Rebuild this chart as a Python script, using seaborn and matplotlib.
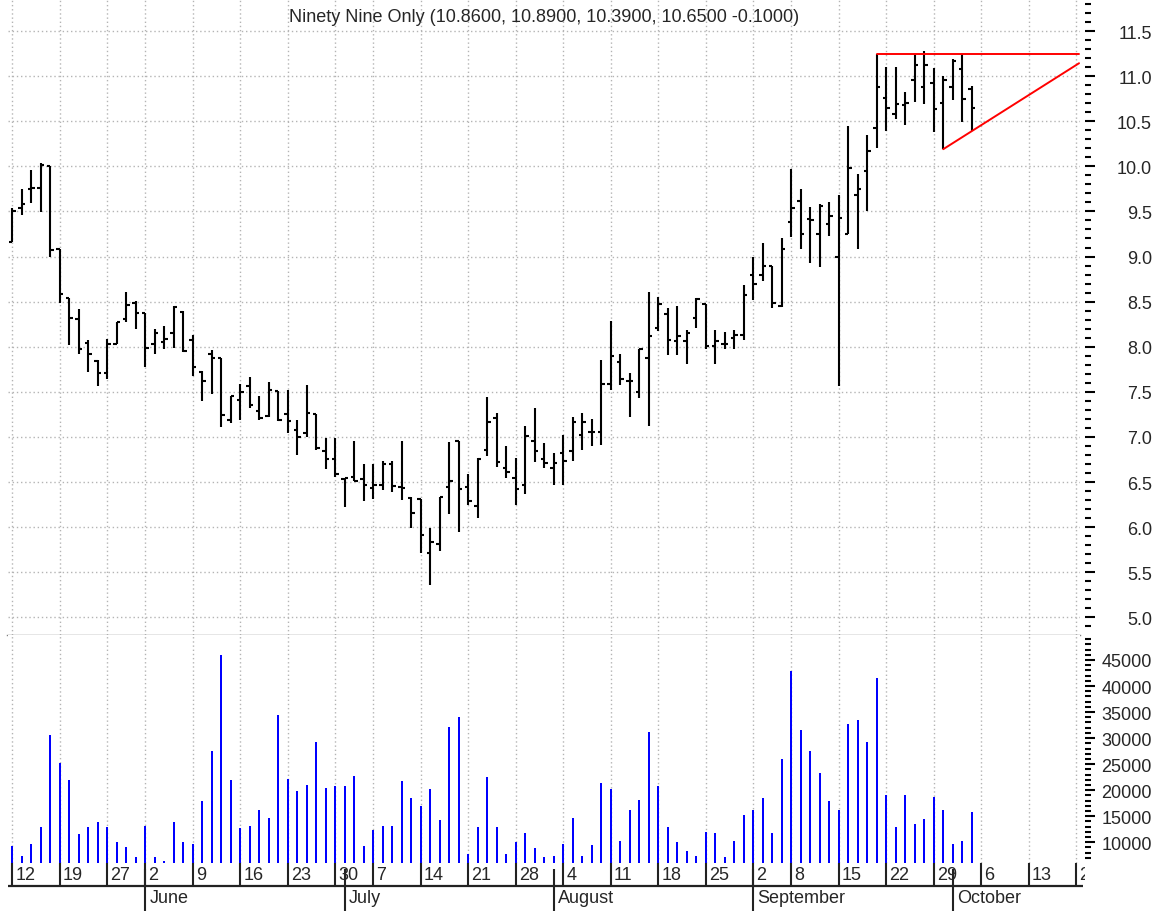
import numpy as np
import pandas as pd
import matplotlib
matplotlib.use("Agg")
import matplotlib.pyplot as plt
from matplotlib.ticker import MultipleLocator, FormatStrFormatter, FixedLocator, NullFormatter
import seaborn as sns

# ---------------- data ----------------
title = "Ninety Nine Only (10.8600, 10.8900, 10.3900, 10.6500 -0.1000)"

opens = [9.16, 9.54, 9.75, 9.76, 10.00, 9.08, 8.54, 8.31, 8.04, 7.84,
         7.71, 8.03, 8.31, 8.49, 8.37, 8.03, 8.05, 8.15, 8.39, 8.08,
         7.72, 7.92, 7.88, 7.19, 7.41, 7.56, 7.29, 7.23, 7.51, 7.25,
         7.08, 7.04, 7.25, 6.84, 6.76, 6.53, 6.56, 6.53, 6.43, 6.47,
         6.70, 6.44, 6.32, 6.31, 5.71, 5.81, 6.44, 6.96, 6.45, 6.23,
         6.85, 7.21, 6.65, 6.55, 6.47, 6.95, 6.76, 6.65, 6.82, 6.84,
         7.02, 7.06, 7.06, 7.59, 7.83, 7.62, 7.50, 7.88, 8.21, 8.36,
         8.06, 8.06, 8.32, 8.47, 8.01, 8.03, 8.10, 8.13, 8.79, 8.80,
         8.90, 8.45, 9.38, 9.62, 9.42, 9.25, 9.36, 9.00, 9.25, 9.68,
         9.95, 10.42, 10.76, 10.58, 10.68, 10.96, 10.88, 10.92, 10.70, 10.88,
         11.08, 10.86]
highs = [9.54, 9.75, 9.96, 10.04, 10.00, 9.08, 8.54, 8.42, 8.07, 7.85,
         8.09, 8.27, 8.61, 8.51, 8.37, 8.20, 8.23, 8.45, 8.40, 8.13,
         7.73, 7.96, 7.88, 7.45, 7.59, 7.66, 7.45, 7.61, 7.51, 7.52,
         7.19, 7.58, 7.25, 6.99, 6.99, 6.55, 6.95, 6.70, 6.70, 6.73,
         6.73, 6.95, 6.33, 6.31, 5.99, 6.33, 6.94, 6.96, 6.59, 6.77,
         7.44, 7.27, 6.90, 6.77, 7.12, 7.32, 6.93, 6.82, 7.02, 7.22,
         7.26, 7.20, 7.85, 8.29, 7.92, 7.71, 7.98, 8.61, 8.55, 8.43,
         8.45, 8.19, 8.54, 8.47, 8.18, 8.16, 8.19, 8.68, 9.00, 9.15,
         8.90, 9.21, 9.97, 9.75, 9.55, 9.58, 9.60, 9.68, 10.45, 9.92,
         10.35, 11.25, 11.10, 11.10, 10.82, 11.23, 11.28, 11.09, 11.00, 11.19,
         11.24, 10.89]
lows = [9.16, 9.46, 9.59, 9.49, 9.00, 8.49, 8.02, 7.92, 7.72, 7.57,
        7.64, 8.03, 8.27, 8.20, 7.77, 7.92, 7.97, 7.99, 7.94, 7.67,
        7.40, 7.48, 7.11, 7.15, 7.19, 7.32, 7.19, 7.22, 7.18, 7.04,
        6.80, 7.00, 6.86, 6.64, 6.56, 6.22, 6.51, 6.29, 6.31, 6.41,
        6.39, 6.30, 5.99, 5.71, 5.36, 5.74, 6.15, 5.95, 6.25, 6.10,
        6.79, 6.67, 6.55, 6.25, 6.37, 6.72, 6.65, 6.47, 6.47, 6.73,
        6.85, 6.90, 6.91, 7.52, 7.58, 7.22, 7.43, 7.12, 8.17, 7.91,
        7.91, 7.81, 8.21, 7.97, 7.81, 7.97, 7.97, 8.08, 8.52, 8.73,
        8.43, 8.44, 9.22, 9.08, 8.93, 8.88, 9.23, 7.56, 9.25, 9.08,
        9.51, 10.20, 10.39, 10.53, 10.46, 10.71, 10.69, 10.38, 10.19, 10.74,
        10.49, 10.39]
closes = [9.50, 9.58, 9.76, 10.01, 9.07, 8.59, 8.32, 7.97, 7.92, 7.71,
          8.03, 8.27, 8.46, 8.37, 7.99, 8.15, 8.09, 8.44, 7.95, 7.78,
          7.62, 7.88, 7.24, 7.45, 7.50, 7.35, 7.21, 7.52, 7.19, 7.18,
          7.00, 7.26, 6.88, 6.76, 6.59, 6.55, 6.51, 6.47, 6.47, 6.70,
          6.46, 6.43, 6.16, 5.91, 5.84, 6.33, 6.51, 6.42, 6.29, 6.76,
          7.17, 6.72, 6.61, 6.42, 7.01, 6.84, 6.71, 6.71, 6.73, 7.16,
          7.17, 7.05, 7.59, 7.90, 7.64, 7.62, 7.98, 8.12, 8.47, 8.08,
          8.12, 8.15, 8.53, 8.01, 8.06, 8.03, 8.13, 8.57, 8.70, 8.90,
          8.49, 9.08, 9.54, 9.25, 9.40, 9.56, 9.45, 9.43, 9.98, 9.75,
          10.17, 10.88, 10.65, 10.69, 10.70, 11.12, 11.12, 10.63, 10.96, 11.17,
          10.75, 10.65]
volumes = [9230, 7440, 9740, 12950, 30640,
           25130, 21920, 11540, 12950, 13850,
           12950, 10060, 9170, 7180,
           13200, 7180, 6350, 13850, 10060,
           9740, 17880, 27500, 46030, 21920,
           12690, 13200, 16150, 14680, 34420,
           22180, 19870, 21090, 29230, 20450,
           20830, 20830, 22820, 9230,
           12440, 13200, 13200, 21670, 18460,
           16990, 20190, 14360, 32120, 34100,
           7690, 12950, 22560, 12950, 7690,
           10060, 11790, 8910, 7180, 7440,
           9740, 14680, 7440, 9490, 21410,
           20190, 10320, 16150, 18140, 31220,
           20830, 12950, 10060, 8270, 7440,
           12050, 11790, 7180, 10320, 15190,
           16150, 18460, 11790, 25960,
           42820, 31470, 27440, 23330, 17880,
           16150, 32630, 33530, 29230, 41600,
           19040, 12950, 19040, 13530, 14420,
           18720, 16150, 9740, 10320, 15900]

holidays = ["2008-05-26", "2008-07-04", "2008-09-01"]
resistance_level = 11.25
resistance_start = 91
support_points = [(98, 10.19), (101, 10.39)]

# ---------------- calendar (trading days) ----------------
calendar = pd.bdate_range("2008-05-12", "2008-10-20")
calendar = calendar[~calendar.isin(pd.to_datetime(holidays))]
cal = pd.DataFrame({"date": calendar})
cal["pos"] = np.arange(len(cal))
iso = cal["date"].dt.isocalendar()
cal["week"] = iso["year"].astype(str) + "-" + iso["week"].astype(str)
week_starts = cal.groupby("week", sort=False)["pos"].min().values
week_labels = [str(cal.loc[p, "date"].day) for p in week_starts]
cal["month"] = cal["date"].dt.month
month_first = cal.groupby("month", sort=False)["pos"].min()
month_starts = month_first.values[1:]
month_labels = [cal.loc[p, "date"].strftime("%B") for p in month_starts]

n = len(opens)
idx = np.arange(n)
df = pd.DataFrame({"pos": idx, "open": opens, "high": highs, "low": lows,
                   "close": closes, "volume": volumes})

# ---------------- style ----------------
sns.set_style("white")
plt.rcParams["font.family"] = ["Liberation Sans", "DejaVu Sans"]
plt.rcParams["font.size"] = 13

W, H = 1166, 912
L, R = 7.5, 1080.0
px_per_day = 9.5
x_left = -0.5
x_right = x_left + (R - L) / px_per_day

fig = plt.figure(figsize=(W / 100, H / 100), dpi=100)
ax_p = fig.add_axes([L / W, 1 - 636 / H, (R - L) / W, 636 / H])
ax_v = fig.add_axes([L / W, 1 - 864 / H, (R - L) / W, 228 / H])
ax_d = fig.add_axes([L / W, 0, (R + 5 - L) / W, 48 / H])

grid_kw = dict(color="#b4b4b4", linestyle=(0, (1, 2)), linewidth=1.0)

# ---------------- price panel ----------------
ax_p.vlines(df["pos"], df["low"], df["high"], color="black", linewidth=1.5)
ax_p.hlines(df["open"], df["pos"] - 0.38, df["pos"], color="black", linewidth=1.5)
ax_p.hlines(df["close"], df["pos"], df["pos"] + 0.38, color="black", linewidth=1.5)

line_end = x_right - 0.1
ax_p.plot([resistance_start, line_end], [resistance_level, resistance_level],
          color="#ff0000", linewidth=1.4)
(sx0, sy0), (sx1, sy1) = support_points
slope = (sy1 - sy0) / (sx1 - sx0)
ax_p.plot([sx0, line_end], [sy0, sy0 + slope * (line_end - sx0)],
          color="#ff0000", linewidth=1.4)

ax_p.set_xlim(x_left, x_right)
ax_p.set_ylim(4.804, 11.855)
ax_p.xaxis.set_major_locator(FixedLocator(week_starts))
ax_p.xaxis.set_major_formatter(NullFormatter())
ax_p.tick_params(axis="x", length=0)
ax_p.yaxis.set_major_locator(MultipleLocator(0.5))
ax_p.yaxis.set_minor_locator(MultipleLocator(0.1))
ax_p.yaxis.set_major_formatter(FormatStrFormatter("%.1f"))
ax_p.grid(True, which="major", **grid_kw)
for s in ["left", "top", "right"]:
    ax_p.spines[s].set_visible(False)
ax_p.spines["bottom"].set_color("#808080")
ax_p.spines["bottom"].set_linewidth(1.0)

# ---------------- volume panel ----------------
sns.barplot(data=df, x="pos", y="volume", native_scale=True, width=0.22,
            color="#0000ff", saturation=1, errorbar=None, linewidth=0, ax=ax_v)
ax_v.set_xlabel("")
ax_v.set_ylabel("")
ax_v.set_xlim(x_left, x_right)
ax_v.set_ylim(6020, 49800)
ax_v.xaxis.set_major_locator(FixedLocator(week_starts))
ax_v.xaxis.set_major_formatter(NullFormatter())
ax_v.tick_params(axis="x", length=0)
ax_v.yaxis.set_major_locator(MultipleLocator(5000))
ax_v.yaxis.set_minor_locator(MultipleLocator(1000))
ax_v.yaxis.set_major_formatter(FormatStrFormatter("%d"))
ax_v.grid(True, axis="x", which="major", **grid_kw)
ax_v.grid(False, axis="y")
for s in ["left", "top", "bottom", "right"]:
    ax_v.spines[s].set_visible(False)

# right-hand tick styling for both panels
for ax in (ax_p, ax_v):
    ax.yaxis.tick_right()
    ax.spines["right"].set_position(("outward", 3.6))
    ax.tick_params(axis="y", which="major", direction="out", length=7.2,
                   width=1.5, color="black", pad=41, labelsize=13)
    ax.tick_params(axis="y", which="minor", direction="out", length=4.3,
                   width=1.5, color="black")
    plt.setp(ax.get_yticklabels(), ha="right")

# ---------------- date rows ----------------
ax_d.set_xlim(x_left, x_left + (R + 5 - L) / px_per_day)
ax_d.set_ylim(48, 0)
ax_d.axis("off")
ax_d.hlines(23, x_left, x_left + (R + 3 - L) / px_per_day, color="#222222", linewidth=1.6)
ax_d.vlines(week_starts, 0, 23, color="#222222", linewidth=1.5)
ax_d.vlines(month_starts, 6, 48, color="#222222", linewidth=1.5)
for p, lab in zip(week_starts, week_labels):
    ax_d.text(p + 0.32, 11.5, lab, ha="left", va="center", fontsize=13, clip_on=True)
for p, lab in zip(month_starts, month_labels):
    ax_d.text(p + 0.42, 35, lab, ha="left", va="center", fontsize=13, clip_on=True)

# ---------------- title ----------------
fig.text((L + R) / 2 / W, 1 - 17 / H, title, ha="center", va="center", fontsize=13)

fig.savefig("out.png", dpi=100)
